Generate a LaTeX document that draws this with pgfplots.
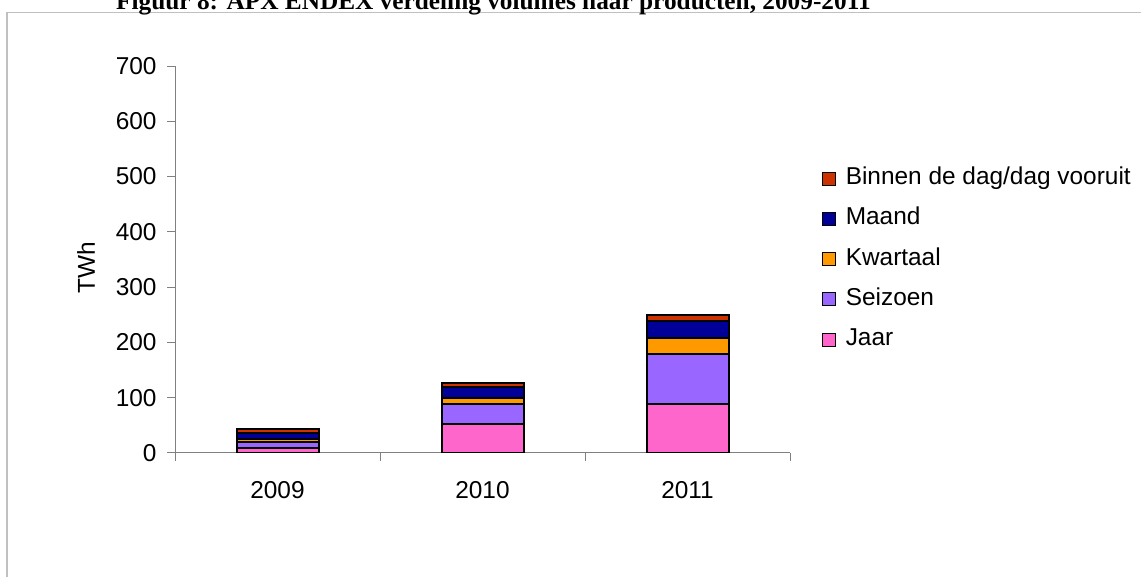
\documentclass[border=0pt]{standalone}
\usepackage{pgfplots}
\pgfplotsset{compat=1.18}
\usepackage{fontspec}
\setmainfont{Liberation Sans}
\newfontfamily\seriffont{Liberation Serif}
\definecolor{cJaar}{HTML}{FF66CC}
\definecolor{cSeiz}{HTML}{9966FF}
\definecolor{cKw}{HTML}{FF9900}
\definecolor{cMaand}{HTML}{000099}
\definecolor{cBin}{HTML}{CC3300}
\definecolor{axgray}{HTML}{808080}
\definecolor{framegray}{HTML}{C0C0C0}
\begin{document}
\begin{tikzpicture}
\useasboundingbox (0,0) rectangle (1141bp,577bp);
\draw[framegray, line width=1.5bp] (7bp,-5bp) -- (7bp,564.5bp) -- (1150bp,564.5bp);
\node[anchor=base west, inner sep=0pt, font=\seriffont\bfseries\fontsize{25.4}{30}\selectfont] at (116bp,567bp) {Figuur 8: APX ENDEX verdeling volumes naar producten, 2009-2011};
\begin{axis}[
  at={(175bp,124bp)}, anchor=south west,
  scale only axis, width=615bp, height=387bp,
  ymin=0, ymax=700, xmin=-0.5, xmax=2.5,
  ybar stacked, bar width=0.4,
  ytick={0,100,...,700},
  xtick={0,1,2}, xticklabels={2009,2010,2011},
  minor xtick={-0.5,0.5,1.5,2.5},
  axis x line*=bottom, axis y line*=left,
  axis line style={axgray, line width=1bp},
  tick align=outside, major tick length=8bp, minor tick length=8bp,
  every tick/.style={axgray, line width=1bp},
  major x tick style={draw=none},
  tick label style={font=\fontsize{24.5}{29}\selectfont},
  xticklabel style={yshift=-17bp},
  yticklabel style={xshift=-7bp},
  /pgf/number format/assume math mode=true,
  ylabel={TWh},
  ylabel style={font=\fontsize{24.5}{29}\selectfont, at={(axis description cs:-0.1447,0.478)}, anchor=center},
  reverse legend,
  legend cell align=left,
  legend image code/.code={\draw[#1, draw=black, line width=0.8bp] (0bp,-6.5bp) rectangle (13bp,6.5bp);},
  legend style={at={(axis description cs:1.052,0.501)}, anchor=west, draw=none, fill=none,
    inner sep=0pt, outer sep=0pt, row sep=18.2bp,
    font=\fontsize{24.5}{29}\selectfont,
    nodes={inner sep=0pt, text height=17bp, text depth=5bp},
    /tikz/every odd column/.append style={column sep=10bp}},
]
\addplot[fill=cJaar, draw=black, line width=2bp] coordinates {(0,9) (1,53) (2,89)};
\addplot[fill=cSeiz, draw=black, line width=2bp] coordinates {(0,10) (1,36) (2,90)};
\addplot[fill=cKw, draw=black, line width=2bp] coordinates {(0,7) (1,10) (2,29)};
\addplot[fill=cMaand, draw=black, line width=2bp] coordinates {(0,11) (1,20) (2,30)};
\addplot[fill=cBin, draw=black, line width=2bp] coordinates {(0,6) (1,7) (2,11)};
\legend{Jaar,Seizoen,Kwartaal,Maand,Binnen de dag/dag vooruit}
\end{axis}
\end{tikzpicture}
\end{document}
